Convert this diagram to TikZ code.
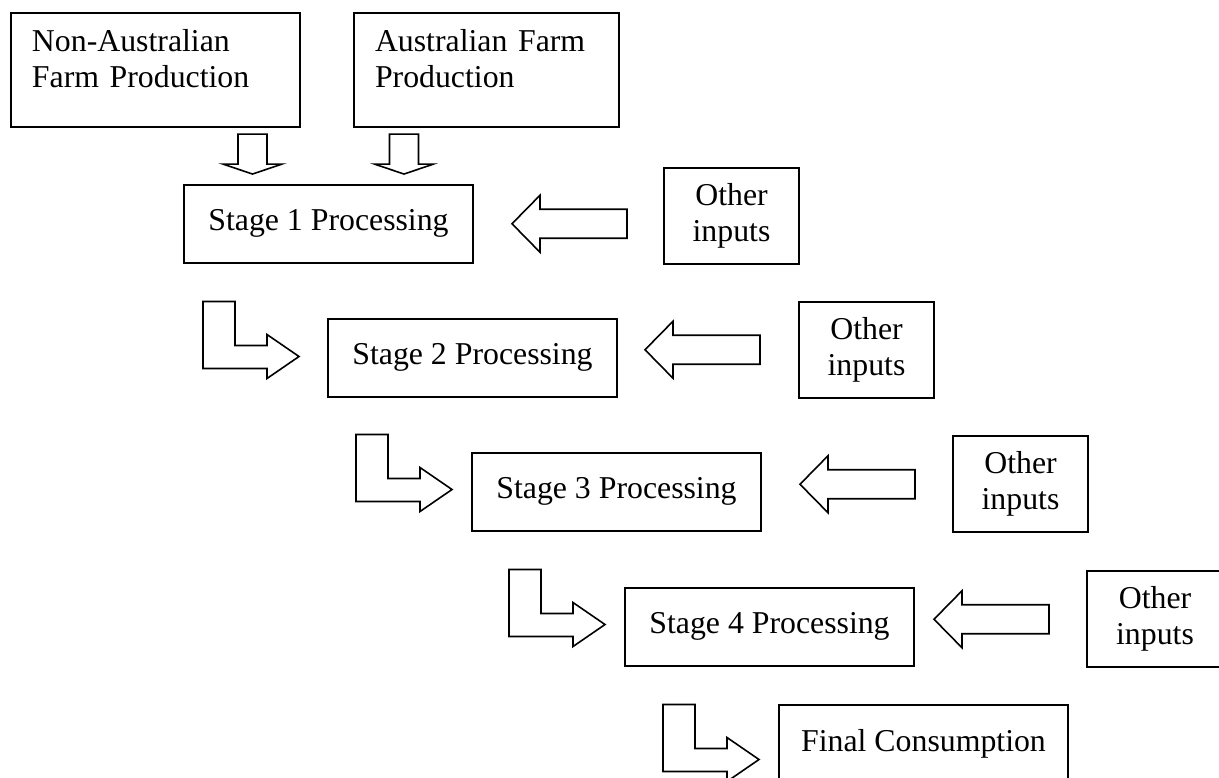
\documentclass[tikz,border=0pt]{standalone}
\usepackage{fontspec}
\setmainfont{Liberation Serif}
\usepackage{tikz}
\usetikzlibrary{positioning}
\usetikzlibrary{calc}
\tikzset{
    boxline/.style={draw, line width=1pt},
    blockline/.style={draw, line width=0.8pt, line join=miter},
    topbox/.style={boxline, anchor=north west, align=left, inner xsep=10.5pt, inner ysep=8pt, minimum height=57pt},
    stagebox/.style={boxline, anchor=north west, inner sep=0pt, minimum width=144.5pt, minimum height=38.75pt},
    otherbox/.style={boxline, anchor=north west, inner sep=0pt, align=center, minimum width=67.5pt, minimum height=48pt},
    pics/downblock/.style={code={\draw[blockline] (-14.5,0) -- (14.5,0) -- (14.5,30) -- (29.5,30) -- (0,40) -- (-29.5,30) -- (-14.5,30) -- cycle;}},
    pics/leftblock/.style={code={\draw[blockline] (0,0) -- (28,-28.5) -- (28,-14.5) -- (115,-14.5) -- (115,14.5) -- (28,14.5) -- (28,28.5) -- cycle;}},
    pics/elbowblock/.style={code={\draw[blockline] (0,0) -- (32,0) -- (32,44) -- (64,44) -- (64,33) -- (96,55) -- (64,77) -- (64,67) -- (0,67) -- cycle;}}
}
\begin{document}
\begin{tikzpicture}[x=0.5pt, y=-0.5pt, font=\fontsize{15.9pt}{18pt}\selectfont]
    \useasboundingbox (0,0) rectangle (1219,777);
    \clip (0,0) rectangle (1219,777);
    \node[topbox, text width=123.5pt] at (10,12) (nonaus) {Non-Australian\\Farm Production\rule[-12pt]{0pt}{12pt}};
    \node[topbox, text width=111.5pt] at (353,12) (aus) {Australian Farm\\Production\rule[-12pt]{0pt}{12pt}};
    \node[stagebox] at (183,184) (stageone) {Stage 1 Processing};
    \node[stagebox] at (327,318) (stagetwo) {Stage 2 Processing};
    \node[stagebox] at (471,452) (stagethree) {Stage 3 Processing};
    \node[stagebox] at (624,587) (stagefour) {Stage 4 Processing};
    \node[stagebox] at (778,704) (final) {Final Consumption};
    \node[otherbox] at (663,167) (otherone) {Other\\inputs};
    \node[otherbox] at (798,301) (othertwo) {Other\\inputs};
    \node[otherbox] at (952,435) (otherthree) {Other\\inputs};
    \node[otherbox, minimum width=68pt] at (1086,570) (otherfour) {Other\\inputs};
    \pic at ($(nonaus.south east)+(-48.5,6)$) {downblock};
    \pic at ($(aus.south west)+(51,6)$) {downblock};
    \pic at ($(stageone.east)+(38,0)$) {leftblock};
    \pic at ($(stagetwo.east)+(27,-8)$) {leftblock};
    \pic at ($(stagethree.east)+(38,-7.5)$) {leftblock};
    \pic at ($(stagefour.east)+(19,-7.5)$) {leftblock};
    \pic at ($(stageone.south west)+(20,38)$) {elbowblock};
    \pic at ($(stagetwo.south west)+(29,37)$) {elbowblock};
    \pic at ($(stagethree.south west)+(38,38)$) {elbowblock};
    \pic at ($(stagefour.south west)+(39,38)$) {elbowblock};
\end{tikzpicture}
\end{document}
